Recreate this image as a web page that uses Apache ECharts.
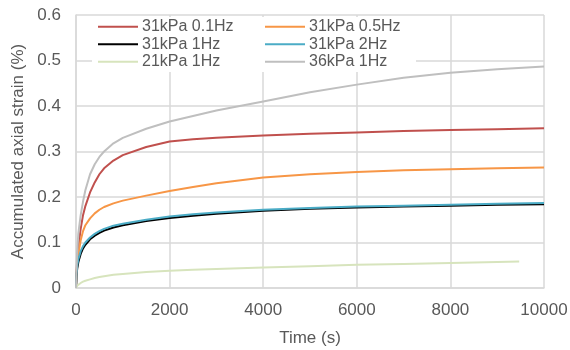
<!DOCTYPE html>
<html>
<head>
<meta charset="utf-8">
<script src="https://cdn.jsdelivr.net/npm/echarts@6/dist/echarts.min.js"></script>
<style>
  html, body { margin: 0; padding: 0; background: #fff; }
  #chart { width: 570px; height: 350px; }
</style>
</head>
<body>
<div id="chart"></div>
<script>
// time stamps (s) for the sampled curves
const times = [0, 10, 25, 50, 100, 150, 200, 300, 400, 500, 600, 800, 1000, 1500, 2000, 2500, 3000, 4000, 5000, 6000, 7000, 8000, 9000, 10000];

const kpa31Hz01 = [0, 0.03, 0.06, 0.09, 0.13, 0.16, 0.18, 0.21, 0.232, 0.25, 0.263, 0.28, 0.292, 0.31, 0.322, 0.327, 0.33, 0.335, 0.339, 0.342, 0.345, 0.347, 0.349, 0.351];
const kpa31Hz05 = [0, 0.03, 0.05, 0.075, 0.105, 0.125, 0.138, 0.153, 0.164, 0.172, 0.178, 0.186, 0.192, 0.203, 0.213, 0.222, 0.23, 0.243, 0.25, 0.255, 0.259, 0.261, 0.263, 0.265];
const kpa31Hz1 = [0, 0.025, 0.042, 0.057, 0.075, 0.087, 0.095, 0.107, 0.115, 0.121, 0.126, 0.133, 0.138, 0.147, 0.154, 0.159, 0.163, 0.17, 0.174, 0.177, 0.179, 0.181, 0.183, 0.184];
const kpa31Hz2 = [0, 0.03, 0.048, 0.063, 0.081, 0.092, 0.1, 0.111, 0.119, 0.125, 0.13, 0.137, 0.141, 0.15, 0.157, 0.162, 0.166, 0.172, 0.176, 0.179, 0.181, 0.183, 0.185, 0.187];
const kpa36Hz1 = [0, 0.04, 0.08, 0.12, 0.16, 0.19, 0.215, 0.25, 0.272, 0.288, 0.3, 0.318, 0.33, 0.35, 0.366, 0.378, 0.39, 0.41, 0.43, 0.447, 0.462, 0.473, 0.481, 0.487];

// the 21 kPa test stops a little before 10000 s
const times21 = [0, 10, 25, 50, 100, 150, 200, 300, 400, 500, 600, 800, 1000, 1500, 2000, 2500, 3000, 4000, 5000, 6000, 7000, 8000, 9000, 9470];
const kpa21Hz1 = [0, 0.003, 0.005, 0.008, 0.011, 0.014, 0.016, 0.019, 0.022, 0.024, 0.026, 0.029, 0.031, 0.035, 0.038, 0.04, 0.042, 0.045, 0.048, 0.051, 0.053, 0.055, 0.057, 0.058];

const xTicks = [0, 2000, 4000, 6000, 8000, 10000];
const yTicks = [0, 0.1, 0.2, 0.3, 0.4, 0.5, 0.6];

const seriesDefs = [
  { name: "31kPa 0.1Hz", x: times, y: kpa31Hz01, color: "#C0504D" },
  { name: "31kPa 0.5Hz", x: times, y: kpa31Hz05, color: "#F79646" },
  { name: "31kPa 1Hz", x: times, y: kpa31Hz1, color: "#000000" },
  { name: "31kPa 2Hz", x: times, y: kpa31Hz2, color: "#4BACC6" },
  { name: "21kPa 1Hz", x: times21, y: kpa21Hz1, color: "#D7E4BD" },
  { name: "36kPa 1Hz", x: times, y: kpa36Hz1, color: "#BFBFBF" },
];

const FONT = "'Liberation Sans', Arial, sans-serif";
const TEXT = "#595959";
const GRIDLINE = "#D9D9D9";

const legendBase = {
  orient: "vertical",
  top: 18,
  padding: 0,
  itemWidth: 40,
  itemHeight: 2,
  itemGap: 0,
  icon: "rect",
  textStyle: { fontFamily: FONT, fontSize: 16, color: TEXT, lineHeight: 17.5, padding: [0, 0, 0, -1] },
};

const chart = echarts.init(document.getElementById("chart"), null, { renderer: "canvas" });

chart.setOption({
  animation: false,
  backgroundColor: "#fff",
  grid: { left: 76, right: 26, top: 15, bottom: 62, containLabel: false, outerBoundsMode: "none" },
  graphic: [
    { type: "rect", left: 92, top: 17, z: 3, shape: { width: 324, height: 55 }, style: { fill: "#fff" } },
  ],
  legend: [
    { ...legendBase, left: 98, data: ["31kPa 0.1Hz", "31kPa 1Hz", "21kPa 1Hz"] },
    { ...legendBase, left: 265, data: ["31kPa 0.5Hz", "31kPa 2Hz", "36kPa 1Hz"] },
  ],
  xAxis: {
    type: "value",
    min: xTicks[0],
    max: xTicks[xTicks.length - 1],
    interval: xTicks[1] - xTicks[0],
    name: "Time (s)",
    nameLocation: "middle",
    nameGap: 42,
    nameTextStyle: { fontFamily: FONT, fontSize: 17, color: TEXT },
    axisLine: { show: true, lineStyle: { color: GRIDLINE, width: 1.5 } },
    axisTick: { show: false },
    axisLabel: { fontFamily: FONT, fontSize: 17, color: TEXT, margin: 14, formatter: (v) => String(v) },
    splitLine: { show: true, lineStyle: { color: GRIDLINE, width: 1.5 } },
  },
  yAxis: {
    type: "value",
    min: yTicks[0],
    max: yTicks[yTicks.length - 1],
    interval: 0.1,
    name: "Accumulated axial strain (%)",
    nameLocation: "middle",
    nameGap: 40,
    nameTextStyle: { fontFamily: FONT, fontSize: 17, color: TEXT },
    axisLine: { show: true, lineStyle: { color: GRIDLINE, width: 1.5 } },
    axisTick: { show: false },
    axisLabel: { fontFamily: FONT, fontSize: 17, color: TEXT, margin: 15 },
    splitLine: { show: true, lineStyle: { color: GRIDLINE, width: 1.5 } },
  },
  series: seriesDefs.map((s) => ({
    name: s.name,
    type: "line",
    data: s.x.map((t, i) => [t, s.y[i]]),
    smooth: false,
    symbol: "none",
    color: s.color,
    lineStyle: { color: s.color, width: 2, join: "round" },
    itemStyle: { color: s.color },
    z: 2,
  })),
});
</script>
</body>
</html>
